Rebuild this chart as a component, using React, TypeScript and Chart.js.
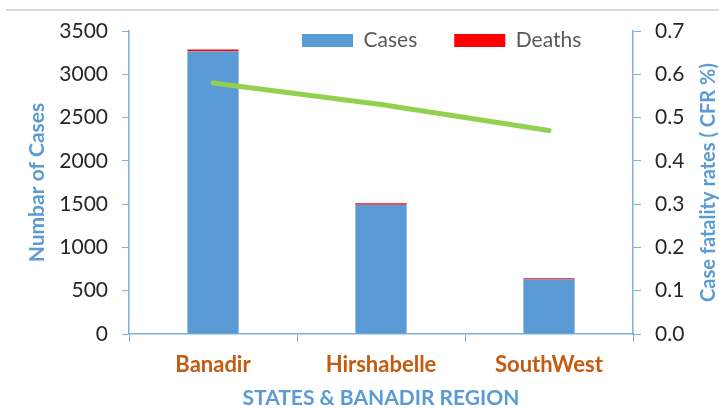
import React, { useEffect, useRef } from "react";
import { Chart, registerables } from "chart.js";

Chart.register(...registerables);

const categories = ["Banadir", "Hirshabelle", "SouthWest"];
const cases = [3265, 1494, 632];
const deaths = [22, 15, 12];
const cfr = [0.58, 0.53, 0.47];

const leftTicks = { min: 0, max: 3500, step: 500 };
const rightTicks = { min: 0, max: 0.7, step: 0.1 };
const rightTitle = "Case fatality rates ( CFR %)";

const FONT = "Lato";
const AXIS_COLOR = "#7EB0DE";
const LEGEND_PAD = 37;

const decorPlugin = {
  id: "decor",
  beforeDraw(chart: any) {
    const ctx = chart.ctx;
    ctx.save();
    ctx.fillStyle = "#D9D9D9";
    ctx.fillRect(6, 9, 713, 2);
    ctx.restore();
    const lg = chart.legend;
    if (lg) {
      lg.left = 302 - LEGEND_PAD;
      lg.right = 719;
      lg.top = 30 - LEGEND_PAD;
      lg.bottom = 70;
      lg.width = lg.right - lg.left;
      lg.height = lg.bottom - lg.top;
    }
  },
  afterDraw(chart: any) {
    const ctx = chart.ctx;
    const s = chart.scales.y1;
    ctx.save();
    ctx.translate(709, (s.top + s.bottom) / 2);
    ctx.rotate(-Math.PI / 2);
    ctx.fillStyle = "#5B9BD5";
    ctx.font = `bold 20px ${FONT}`;
    ctx.textAlign = "center";
    ctx.textBaseline = "middle";
    ctx.fillText(rightTitle, 0, 0);
    ctx.restore();
  },
};

export default function App() {
  const ref = useRef<HTMLCanvasElement>(null);
  useEffect(() => {
    if (!ref.current) return;
    const chart = new Chart(ref.current, {
      type: "bar",
      data: {
        labels: categories,
        datasets: [
          {
            type: "bar",
            label: "Cases",
            data: cases,
            backgroundColor: "#5B9BD5",
            borderWidth: 0,
            yAxisID: "y",
            stack: "s",
            order: 2,
          },
          {
            type: "bar",
            label: "Deaths",
            data: deaths,
            backgroundColor: "#FF0000",
            borderWidth: 0,
            yAxisID: "y",
            stack: "s",
            order: 2,
          },
          {
            type: "line",
            label: "CFR",
            data: cfr,
            borderColor: "#92D050",
            backgroundColor: "#92D050",
            borderWidth: 5,
            borderCapStyle: "round",
            pointRadius: 0,
            yAxisID: "y1",
            order: 1,
          } as any,
        ],
      },
      options: {
        animation: false,
        responsive: true,
        maintainAspectRatio: false,
        layout: { padding: { top: 0, left: 0, right: 0, bottom: 0 } },
        datasets: {
          bar: { categoryPercentage: 1, barPercentage: 0.305 },
        } as any,
        plugins: {
          tooltip: { enabled: false },
          legend: {
            position: "top",
            align: "start",
            maxHeight: 31,
            labels: {
              boxWidth: 51,
              boxHeight: 13,
              padding: LEGEND_PAD,
              color: "#595959",
              font: { family: FONT, size: 21 },
              filter: (item: any) => item.datasetIndex < 2,
            },
          },
        },
        scales: {
          x: {
            stacked: true,
            offset: true,
            grid: {
              display: true,
              drawOnChartArea: false,
              offset: true,
              tickLength: 8,
              color: AXIS_COLOR,
            },
            border: { color: AXIS_COLOR, width: 1.5 },
            ticks: {
              color: "#C55A11",
              padding: 10,
              font: { family: FONT, size: 22, weight: "bold" },
            },
            title: {
              display: true,
              text: "STATES & BANADIR REGION",
              color: "#5B9BD5",
              font: { family: FONT, size: 21, weight: "bold", lineHeight: 1 },
              padding: { top: 0, bottom: 0 },
            },
            afterFit: (s: any) => {
              s.height = 409 - 334;
            },
          },
          y: {
            stacked: true,
            position: "left",
            min: leftTicks.min,
            max: leftTicks.max,
            ticks: {
              stepSize: leftTicks.step,
              color: "#262626",
              padding: 14,
              font: { family: FONT, size: 21 },
              callback: (v: any) => String(v),
            },
            grid: {
              display: true,
              drawOnChartArea: false,
              tickLength: 7,
              color: AXIS_COLOR,
            },
            border: { color: AXIS_COLOR, width: 1.5 },
            title: {
              display: true,
              text: "Numbar of Cases",
              color: "#5B9BD5",
              font: { family: FONT, size: 21, weight: "bold", lineHeight: 1.2 },
              padding: { top: 25, bottom: 0 },
            },
            afterFit: (s: any) => {
              s.width = 129;
            },
          },
          y1: {
            position: "right",
            min: rightTicks.min,
            max: rightTicks.max,
            ticks: {
              stepSize: rightTicks.step,
              color: "#262626",
              padding: 14,
              font: { family: FONT, size: 21 },
              callback: (v: any) => Number(v).toFixed(1),
            },
            grid: {
              display: true,
              drawOnChartArea: false,
              tickLength: 8,
              color: AXIS_COLOR,
            },
            border: { color: AXIS_COLOR, width: 1.5 },
            title: { display: false },
            afterFit: (s: any) => {
              s.width = 719 - 633;
            },
          },
        },
      },
      plugins: [decorPlugin],
    });
    return () => chart.destroy();
  }, []);
  return (
    <div
      style={{
        position: "absolute",
        left: 0,
        top: 0,
        width: 719,
        height: 409,
        background: "#fff",
      }}
    >
      <canvas ref={ref} />
    </div>
  );
}
